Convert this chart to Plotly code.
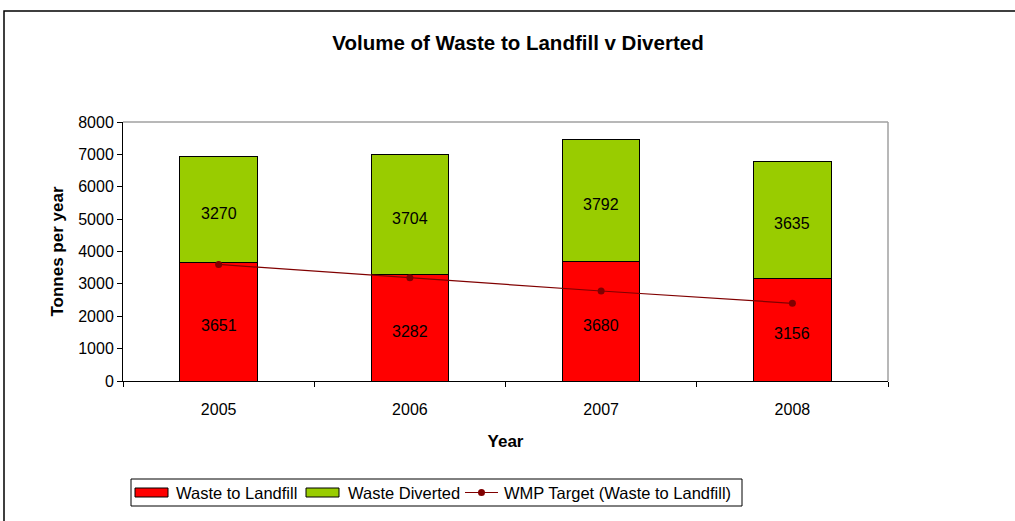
import plotly.graph_objects as go

years = ["2005", "2006", "2007", "2008"]
landfill = [3651, 3282, 3680, 3156]
diverted = [3270, 3704, 3792, 3635]
target = [3600, 3190, 2780, 2400]
y_ticks = [0, 1000, 2000, 3000, 4000, 5000, 6000, 7000, 8000]

FONT = "Liberation Sans, Arial, sans-serif"
RED, GREEN, MAROON = "#FF0000", "#99CC00", "#800000"

# plot-area pixel geometry
L, R, T, B = 123, 888, 122, 381
W, H = 1015, 521


def px(x):
    return (x - L) / (R - L)


def py(y):
    return (B - y) / (B - T)


fig = go.Figure()
fig.add_trace(go.Bar(
    x=years, y=landfill, name="Waste to Landfill", showlegend=False,
    marker=dict(color=RED, line=dict(color="#000000", width=1)),
))
fig.add_trace(go.Bar(
    x=years, y=diverted, name="Waste Diverted", showlegend=False,
    marker=dict(color=GREEN, line=dict(color="#000000", width=1)),
))
fig.add_trace(go.Scatter(
    x=years, y=target, name="WMP Target (Waste to Landfill)", showlegend=False,
    mode="lines+markers",
    line=dict(color=MAROON, width=1.2),
    marker=dict(color=MAROON, size=7),
))

# value labels inside the bar segments (x given as category index)
for i, (lf, dv) in enumerate(zip(landfill, diverted)):
    for val, mid in [(lf, lf / 2), (dv, lf + dv / 2)]:
        fig.add_annotation(x=i, y=mid, xref="x", yref="y", text=str(val), showarrow=False,
                           yshift=-4, font=dict(size=16, family=FONT, color="black"))

fig.update_layout(
    width=W, height=H,
    barmode="stack", bargap=0.595,
    margin=dict(l=L, r=W - R, t=T, b=H - B, autoexpand=False),
    paper_bgcolor="white", plot_bgcolor="white",
    font=dict(family=FONT, size=16, color="black"),
    title=dict(text="<b>Volume of Waste to Landfill v Diverted</b>",
               x=518 / W, xanchor="center", y=1 - 43 / H, yanchor="middle",
               font=dict(size=20.5, family=FONT, color="black")),
    showlegend=False,
    xaxis=dict(type="category", categoryorder="array", categoryarray=years,
               range=[-0.5, len(years) - 0.5],
               showgrid=False, showline=True, linecolor="black",
               linewidth=1, ticks="outside", tickson="boundaries", ticklen=5,
               tickcolor="black", ticklabelstandoff=14,
               title=dict(text="<b>Year</b>", font=dict(size=17, family=FONT), standoff=17),
               tickfont=dict(size=16, family=FONT)),
    yaxis=dict(range=[0, 8000], tickvals=y_ticks, showgrid=False, showline=True,
               linecolor="black", linewidth=1, ticks="outside", ticklen=5,
               tickcolor="black", zeroline=False,
               title=dict(text="<b>Tonnes per year</b>", font=dict(size=17, family=FONT), standoff=10),
               tickfont=dict(size=16, family=FONT)),
)

# Plot-area border (top and right, gray)
fig.add_shape(type="line", xref="paper", yref="paper", x0=0, x1=1, y0=1, y1=1,
              line=dict(color="#A0A0A0", width=1.5), layer="below")
fig.add_shape(type="line", xref="paper", yref="paper", x0=1, x1=1, y0=0, y1=1,
              line=dict(color="#A0A0A0", width=1.5), layer="below")
# Outer chart frame
fig.add_shape(type="rect", xref="paper", yref="paper",
              x0=px(4), x1=px(1030), y0=py(540), y1=py(11),
              line=dict(color="black", width=1.5), layer="below")

# Legend (drawn by hand to match the wide swatches)
leg_y = 492.5
fig.add_shape(type="rect", xref="paper", yref="paper",
              x0=px(131), x1=px(742), y0=py(506), y1=py(479),
              line=dict(color="black", width=1), fillcolor="white", layer="above")
fig.add_shape(type="rect", xref="paper", yref="paper",
              x0=px(135), x1=px(168), y0=py(497), y1=py(488),
              line=dict(color="black", width=1), fillcolor=RED, layer="above")
fig.add_shape(type="rect", xref="paper", yref="paper",
              x0=px(306), x1=px(339), y0=py(497), y1=py(488),
              line=dict(color="black", width=1), fillcolor=GREEN, layer="above")
fig.add_shape(type="line", xref="paper", yref="paper",
              x0=px(465), x1=px(498), y0=py(leg_y), y1=py(leg_y),
              line=dict(color=MAROON, width=1.2), layer="above")
fig.add_shape(type="circle", xref="paper", yref="paper",
              x0=px(478), x1=px(485), y0=py(leg_y + 3.5), y1=py(leg_y - 3.5),
              line=dict(color=MAROON, width=0), fillcolor=MAROON, layer="above")
for label, x0 in [("Waste to Landfill", 174), ("Waste Diverted", 346),
                  ("WMP Target (Waste to Landfill)", 502)]:
    fig.add_annotation(text=label, xref="paper", yref="paper", x=px(x0), y=py(leg_y),
                       xanchor="left", yanchor="middle", showarrow=False,
                       font=dict(size=16.5, family=FONT, color="black"))

fig.write_html("out.html")
